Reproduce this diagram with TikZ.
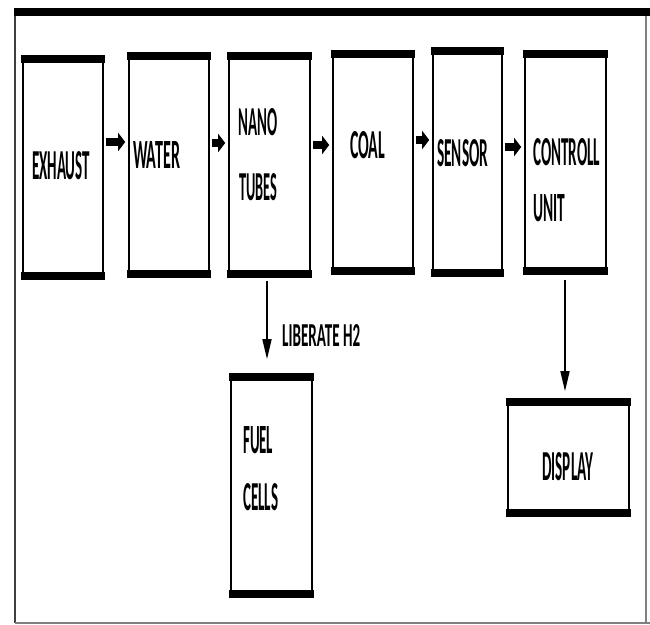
\documentclass[tikz,border=0pt]{standalone}
\usepackage{fontspec}
\setmainfont{Carlito}
\usepackage{graphicx}
\usetikzlibrary{arrows.meta}
\newcommand\lbl[3]{\resizebox{#1pt}{#2pt}{\bfseries #3}}
\tikzset{
  blk/.style={draw, line width=1.6pt, inner sep=0pt},
  txt/.style={inner sep=0pt, anchor=west},
  harr/.style={line width=8pt, -{Triangle[length=7pt,width=18pt]}, shorten <=2pt, shorten >=3pt},
  varr/.style={line width=1.6pt, -{Triangle[length=20pt,width=9pt]}}
}
\begin{document}
\begin{tikzpicture}[x=1pt,y=-1pt]
\useasboundingbox (0,0) rectangle (650,624);
% frame
\draw[line width=2pt, black!75] (15,12) -- (15,623);
\draw[line width=1.5pt, black!50] (646,12) -- (646,623);
\draw[line width=1.5pt, black!50] (15,623) -- (650,623);
\fill (14,8) rectangle (650,16);
% boxes
\node[blk, minimum width=80pt, minimum height=221pt] (ex) at (63,167.5) {};
\node[blk, minimum width=80pt, minimum height=222pt] (wa) at (169,165) {};
\node[blk, minimum width=81pt, minimum height=222pt] (nt) at (269.5,165) {};
\node[blk, minimum width=80pt, minimum height=221pt] (co) at (373,162.5) {};
\node[blk, minimum width=69pt, minimum height=226pt] (se) at (467.5,162) {};
\node[blk, minimum width=81pt, minimum height=221pt] (cu) at (565.5,162.5) {};
\node[blk, minimum width=81pt, minimum height=221pt] (fc) at (271.5,485.5) {};
\node[blk, minimum width=121pt, minimum height=115pt] (di) at (568.5,457.5) {};
\foreach \n in {ex,wa,nt,co,se,cu,fc,di}{
  \fill ([xshift=-0.8pt,yshift=0.8pt]\n.north west) rectangle ([xshift=0.8pt,yshift=-7pt]\n.north east);
  \fill ([xshift=-0.8pt,yshift=-0.8pt]\n.south west) rectangle ([xshift=0.8pt,yshift=7pt]\n.south east);
}
% texts
\node[inner sep=0pt] (tex) at (61,166) {\lbl{58}{28}{EXHAUST}};
\node[txt] (twa) at (133,155) {\lbl{47}{27}{WATER}};
\node[txt] (tna) at (238,122) {\lbl{39}{27}{NANO}};
\node[txt] (ttu) at (239,187) {\lbl{38}{27}{TUBES}};
\node[txt] (tco) at (350,145) {\lbl{35}{27}{COAL}};
\node[txt] (tse) at (437,153) {\lbl{51}{27}{SENSOR}};
\node[txt] (tct) at (533,152) {\lbl{67}{27}{CONTROLL}};
\node[txt] (tun) at (533,208) {\lbl{32}{27}{UNIT}};
\node[txt] (tfu) at (243,440) {\lbl{30}{27}{FUEL}};
\node[txt] (tce) at (243,497) {\lbl{35}{27}{CELLS}};
\node[txt] (tdi) at (542,467) {\lbl{51}{28}{DISPLAY}};
\node[txt] (tli) at (282,335) {\lbl{78}{22}{LIBERATE H2}};
% arrows
\draw[harr] (ex.east |- 0,142) -- (wa.west |- 0,142);
\draw[harr] (wa.east |- 0,143) -- (nt.west |- 0,143);
\draw[harr] (nt.east |- 0,145) -- (co.west |- 0,145);
\draw[harr] (co.east |- 0,140) -- (se.west |- 0,140);
\draw[harr] (se.east |- 0,147) -- (cu.west |- 0,147);
\draw[varr, shorten <=4pt, shorten >=15pt] (nt.south -| 267,0) -- (fc.north -| 267,0);
\draw[varr, shorten <=6pt, shorten >=8pt] (cu.south -| 565,0) -- (di.north -| 565,0);
\end{tikzpicture}
\end{document}
